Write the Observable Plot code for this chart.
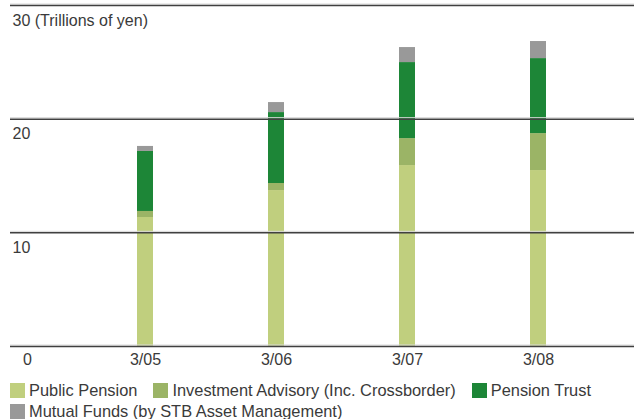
<!DOCTYPE html>
<html>
<head>
<meta charset="utf-8">
<script src="https://cdn.jsdelivr.net/npm/d3@7"></script>
<script src="https://cdn.jsdelivr.net/npm/@observablehq/plot@0.6"></script>
<style>
  html, body { margin: 0; padding: 0; background: #fff; }
  body { width: 637px; height: 419px; overflow: hidden; font-family: "Liberation Sans", Arial, Helvetica, sans-serif; color: #3a3a3a; }
  #legend { display: flex; flex-wrap: wrap; width: 637px; padding: 8px 0 0 10px; box-sizing: border-box; font-size: 16.4px; line-height: 21px; }
  .item { display: flex; align-items: center; margin-right: 16px; white-space: nowrap; }
  .sw { width: 15px; height: 15px; margin-right: 4px; }
</style>
</head>
<body>
<div id="chart"></div>
<div id="legend"></div>
<script>
const years = ["3/05", "3/06", "3/07", "3/08"];
const seriesNames = ["Public Pension", "Investment Advisory (Inc. Crossborder)", "Pension Trust", "Mutual Funds (by STB Asset Management)"];
const publicPension = [11.35, 13.72, 15.92, 15.48];
const investmentAdvisory = [0.53, 0.62, 2.37, 3.25];
const pensionTrust = [5.28, 6.24, 6.69, 6.60];
const mutualFunds = [0.44, 0.88, 1.32, 1.50];
const yTicks = [0, 10, 20, 30];
const yTickLabels = ["0", "10", "20", "30 (Trillions of yen)"];
const colors = ["#c0cf7e", "#9bb466", "#1d8637", "#999999"];

const seriesValues = [publicPension, investmentAdvisory, pensionTrust, mutualFunds];
const data = [];
seriesNames.forEach((s, i) => years.forEach((y, j) => data.push({year: y, series: s, value: seriesValues[i][j]})));

const step = (538 - 144) / 3;
const bw = 16;
const pIn = 1 - bw / step;
const r0 = 144 - bw / 2 - 0.5 * step;
const r1 = r0 + step * (4 - pIn + 1);

const labelData = yTicks.map((t, i) => ({t, label: yTickLabels[i]}));

const chart = Plot.plot({
  width: 637,
  height: 372,
  marginTop: 5,
  marginBottom: 26,
  marginLeft: 10,
  marginRight: 3,
  style: {fontFamily: "'Liberation Sans', Arial, Helvetica, sans-serif", fontSize: "16px", color: "#3a3a3a", background: "#fff"},
  x: {type: "band", domain: years, range: [r0, r1], paddingInner: pIn, paddingOuter: 0.5, align: 0.5},
  y: {domain: [0, 30]},
  color: {domain: seriesNames, range: colors},
  marks: [
    Plot.barY(data, Plot.stackY({x: "year", y: "value", fill: "series", order: null})),
    Plot.ruleY(yTicks, {stroke: "#d8d8d8", strokeWidth: 1, dy: -1.5}),
    Plot.ruleY(yTicks, {stroke: "#404040", strokeWidth: 1.5}),
    Plot.text(labelData.filter(d => d.t !== 0), {y: "t", text: "label", frameAnchor: "left", textAnchor: "start", dx: 2, dy: 15, fill: "#3a3a3a", fontSize: 16}),
    Plot.text(labelData.filter(d => d.t === 0), {y: "t", text: "label", frameAnchor: "left", textAnchor: "middle", dx: 17, dy: 13, fill: "#3a3a3a", fontSize: 16}),
    Plot.axisX({tickSize: 0, tickPadding: 7, fontSize: 16, label: null, fill: "#3a3a3a"}),
    Plot.axisY({ticks: [], label: null, tickSize: 0})
  ]
});
document.getElementById("chart").appendChild(chart);

const legend = document.getElementById("legend");
seriesNames.forEach((s, i) => {
  const it = document.createElement("div");
  it.className = "item";
  const sw = document.createElement("span");
  sw.className = "sw";
  sw.style.background = colors[i];
  const tx = document.createElement("span");
  tx.textContent = s;
  it.appendChild(sw);
  it.appendChild(tx);
  legend.appendChild(it);
});
</script>
</body>
</html>
